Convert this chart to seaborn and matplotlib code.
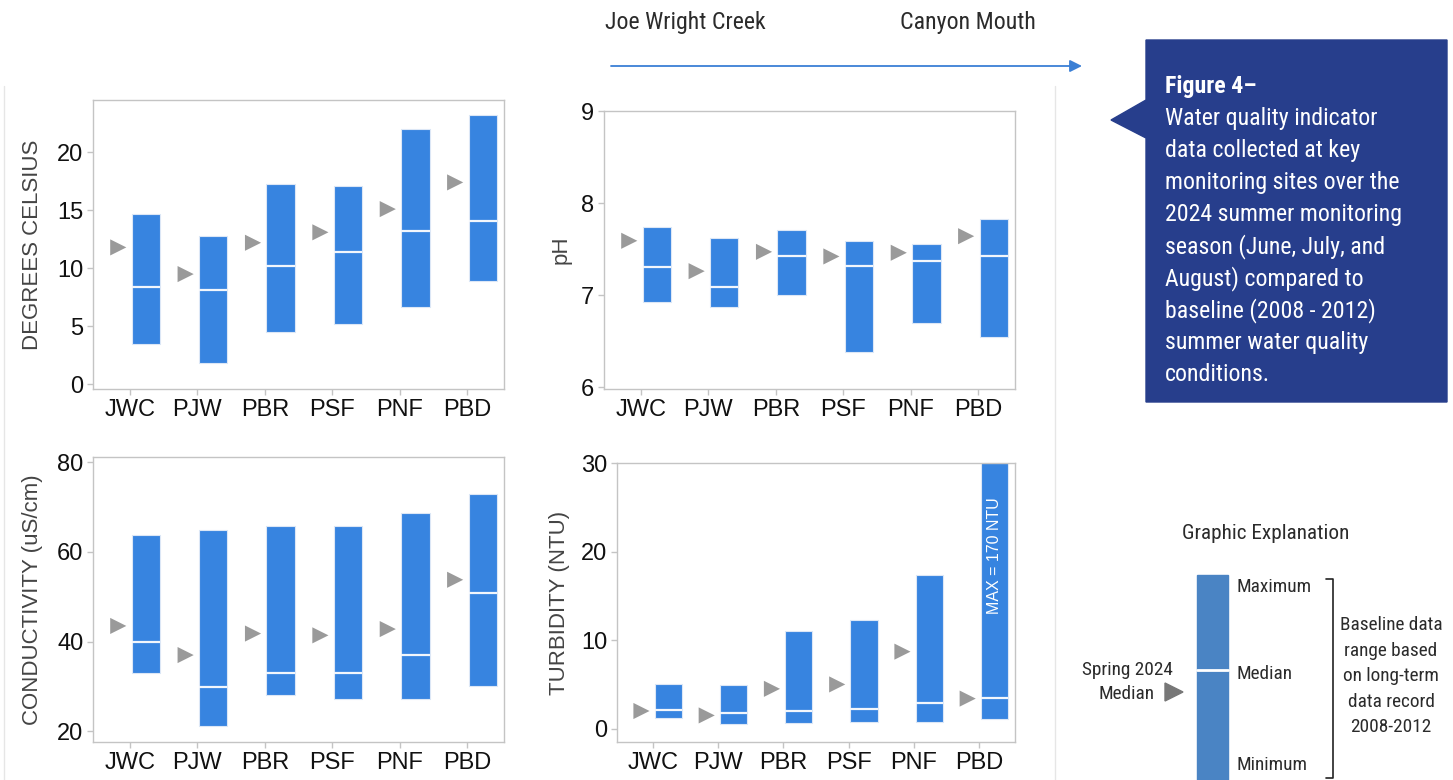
import numpy as np
import matplotlib
matplotlib.use("Agg")
import matplotlib.pyplot as plt
import seaborn as sns
from matplotlib import font_manager as fm
from matplotlib.patches import Polygon, Rectangle

# sites, upstream (Joe Wright Creek) to downstream (Canyon Mouth)
sites = ["JWC", "PJW", "PBR", "PSF", "PNF", "PBD"]

# baseline 2008-2012 min / median / max and 2024 summer median
temp_min = [3.5, 1.8, 4.5, 5.2, 6.7, 8.9]
temp_med = [8.4, 8.1, 10.2, 11.4, 13.2, 14.1]
temp_max = [14.7, 12.8, 17.3, 17.1, 22.0, 23.2]
temp_2024 = [11.8, 9.5, 12.2, 13.1, 15.1, 17.4]

ph_min = [6.93, 6.87, 7.00, 6.38, 6.70, 6.55]
ph_med = [7.30, 7.09, 7.42, 7.32, 7.37, 7.42]
ph_max = [7.74, 7.62, 7.71, 7.59, 7.55, 7.83]
ph_2024 = [7.59, 7.26, 7.47, 7.42, 7.46, 7.64]

cond_min = [33.1, 21.1, 28.1, 27.1, 27.1, 30.1]
cond_med = [39.9, 29.9, 32.9, 32.9, 37.0, 50.9]
cond_max = [63.8, 64.8, 65.8, 65.8, 68.8, 72.9]
cond_2024 = [43.5, 37.0, 41.8, 41.4, 42.8, 53.8]

turb_min = [1.24, 0.53, 0.64, 0.75, 0.72, 1.05]
turb_med = [2.1, 1.8, 1.96, 2.2, 2.9, 3.5]
turb_max = [5.1, 4.9, 11.0, 12.25, 17.4, 170.0]
turb_2024 = [2.0, 1.5, 4.5, 5.0, 8.7, 3.4]

callout_lines = [
    "Water quality indicator",
    "data collected at key",
    "monitoring sites over the",
    "2024 summer monitoring",
    "season (June, July, and",
    "August) compared to",
    "baseline (2008 - 2012)",
    "summer water quality",
    "conditions.",
]
bracket_lines = ["Baseline data", "range based", "on long-term", "data record", "2008-2012"]

BAR = "#3784e0"
TRI = "#9a9a9a"
W, H = 1453, 780

sns.set_theme(style="white")
plt.rcParams['font.family'] = ['Liberation Sans', 'DejaVu Sans']

# narrow font for the annotation text if one exists, else shrink Roboto
names = {f.name for f in fm.fontManager.ttflist}
din, k = 'Roboto', 0.81
for cand, kk in [('Liberation Sans Narrow', 1.0), ('Roboto Condensed', 0.955),
                 ('Open Sans Condensed', 0.955)]:
    if cand in names:
        din, k = cand, kk
        break


def draw_panel(ax, mins, meds, maxs, now, ylim, yticks, ylabel, label_x):
    x = np.arange(len(sites))
    mins, meds, maxs = np.array(mins), np.array(meds), np.array(maxs)
    off, bw = 0.235, 0.42
    ax.bar(x + off, maxs - mins, bottom=mins, width=bw, color=BAR,
           edgecolor='#dce7f6', linewidth=0.8, zorder=2)
    ax.hlines(meds, x + off - bw / 2, x + off + bw / 2, colors='#f2f6fc',
              linewidth=1.6, zorder=3)
    sns.scatterplot(x=x - 0.175, y=now, marker='>', s=135, color=TRI,
                    edgecolor='none', ax=ax, zorder=3)
    ax.set_xticks(x)
    ax.set_xticklabels(sites)
    ax.set_xlim(-0.55, 5.55)
    ax.set_ylim(*ylim)
    ax.set_yticks(yticks)
    for s in ax.spines.values():
        s.set_color('#c4c4c4')
        s.set_linewidth(1)
    ax.tick_params(axis='both', labelsize=17, colors='#c4c4c4',
                   labelcolor='#111111', length=4, width=1, pad=3,
                   left=True, bottom=True)
    ax.set_xlabel('')
    ax.set_ylabel(ylabel, fontsize=16, color='#444444')
    ax.yaxis.set_label_coords(label_x, 0.5)


fig = plt.figure(figsize=(W / 100, H / 100), dpi=100)


def px_axes(l, t, r, b):
    return fig.add_axes([l / W, 1 - b / H, (r - l) / W, (b - t) / H])


ax1 = px_axes(93, 100, 504, 389)
draw_panel(ax1, temp_min, temp_med, temp_max, temp_2024, (-0.4, 24.5),
           [0, 5, 10, 15, 20], "DEGREES CELSIUS", -0.122)

ax2 = px_axes(604, 111, 1015, 389)
draw_panel(ax2, ph_min, ph_med, ph_max, ph_2024, (5.98, 9.0),
           [6, 7, 8, 9], "pH", -0.080)

ax3 = px_axes(93, 457, 504, 742)
draw_panel(ax3, cond_min, cond_med, cond_max, cond_2024, (17.6, 81.2),
           [20, 40, 60, 80], "CONDUCTIVITY (uS/cm)", -0.122)

ax4 = px_axes(617, 463, 1015, 742)
draw_panel(ax4, turb_min, turb_med, turb_max, turb_2024, (-1.5, 30.0),
           [0, 10, 20, 30], "TURBIDITY (NTU)", -0.118)
ax4.text(5 + 0.235, 19.5, "MAX = 170 NTU", rotation=90, ha='center',
         va='center', color='white', fontsize=11.5, zorder=4)

# overlay in pixel coordinates for header, callout and explanation
ov = fig.add_axes([0, 0, 1, 1], zorder=-1)
ov.set_xlim(0, W)
ov.set_ylim(H, 0)
ov.axis('off')
ov.patch.set_alpha(0)

ov.plot([4, 4], [86, H], color='#e6e6e6', lw=1)
ov.plot([1055, 1055], [86, H], color='#e6e6e6', lw=1)

ov.text(605, 29, "Joe Wright Creek", fontsize=18 * k, color='#2b2b2b',
        family=din, va='baseline')
ov.text(900, 29, "Canyon Mouth", fontsize=18 * k, color='#2b2b2b',
        family=din, va='baseline')
ov.annotate('', xy=(1082, 66), xytext=(611, 66),
            arrowprops=dict(arrowstyle='-|>', color='#3a7fd5', lw=1.3,
                            mutation_scale=18, shrinkA=0, shrinkB=0))

ov.add_patch(Polygon([(1146, 40), (1447, 40), (1447, 402), (1146, 402),
                      (1146, 138), (1111, 120), (1146, 100)],
                     closed=True, color='#273e8c', zorder=1))
ov.text(1165, 93, "Figure 4–", fontsize=18 * k, color='white', family=din,
        weight='semibold', va='baseline', zorder=2)
for i, line in enumerate(callout_lines):
    ov.text(1165, 93 + 32.05 * (i + 1), line, fontsize=18 * k, color='white',
            family=din, va='baseline', zorder=2)

ov.text(1266, 539, "Graphic Explanation", fontsize=16 * k, color='#2b2b2b',
        family=din, ha='center', va='baseline')
ov.add_patch(Rectangle((1197, 575), 31, 205, color='#4a84c4'))
ov.plot([1197, 1228], [670, 670], color='white', lw=2)
for label, yb in [("Maximum", 592), ("Median", 679), ("Minimum", 770)]:
    ov.text(1236, yb, label, fontsize=14.5 * k, color='#2b2b2b', family=din,
            va='baseline')
ov.plot([1326, 1333, 1333, 1326], [579, 579, 778, 778], color='#222222',
        lw=1.2)
for i, line in enumerate(bracket_lines):
    ov.text(1391, 630 + 25.6 * i, line, fontsize=14.5 * k, color='#2b2b2b',
            family=din, ha='center', va='baseline')
ov.text(1173, 675, "Spring 2024", fontsize=14.5 * k, color='#2b2b2b', family=din,
        ha='right', va='baseline')
ov.text(1154, 699, "Median", fontsize=14.5 * k, color='#2b2b2b', family=din,
        ha='right', va='baseline')
ov.add_patch(Polygon([(1165, 683), (1165, 701), (1183, 692)], closed=True,
                     color='#777777'))

fig.savefig("out.png", dpi=100)
